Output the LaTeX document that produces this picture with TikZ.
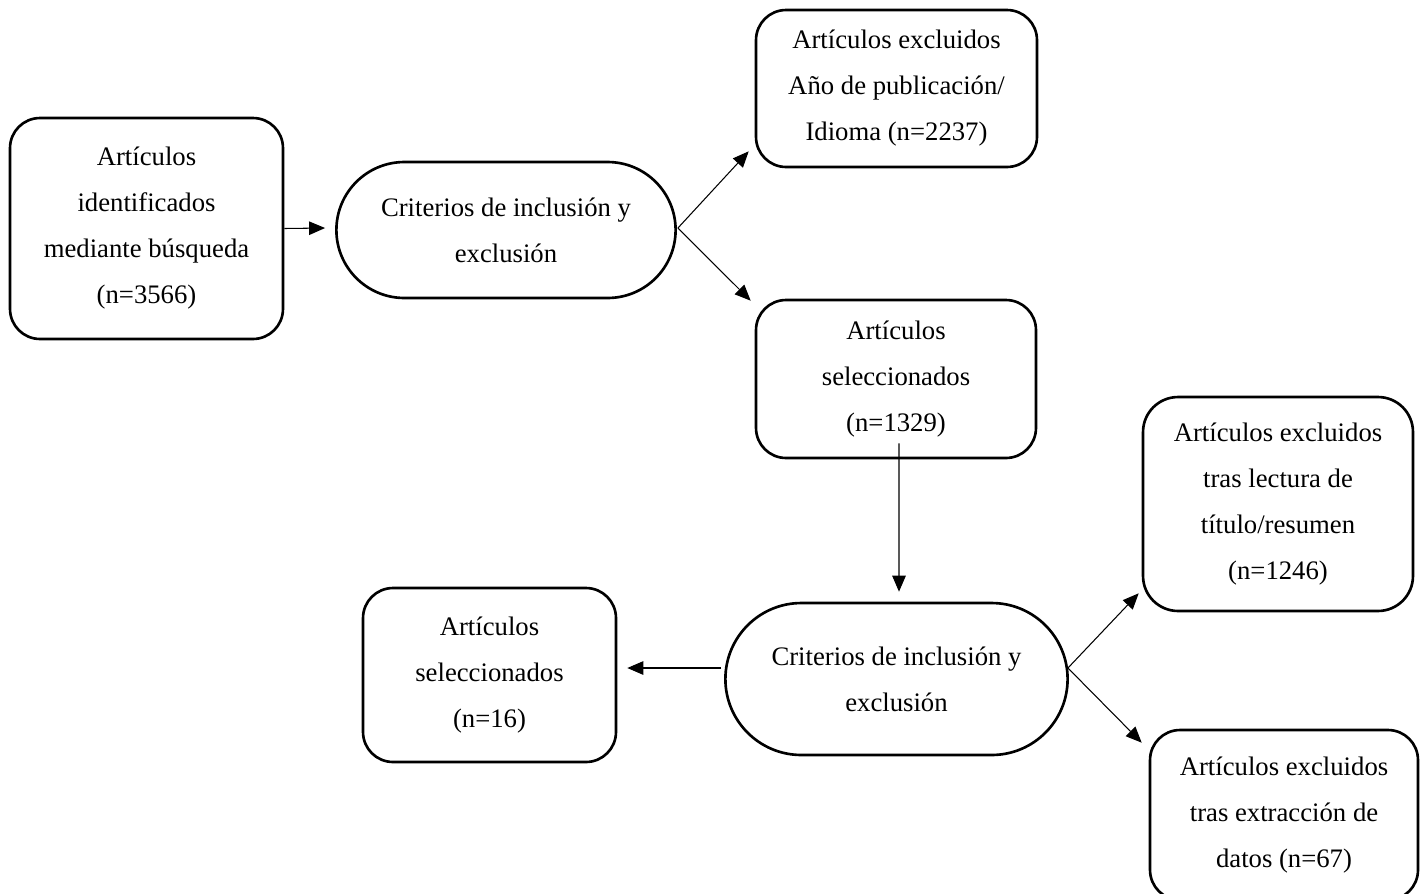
\documentclass[tikz,border=0pt]{standalone}
\usepackage{fontspec}
\setmainfont{Liberation Serif}
\usepackage{tikz}
\usetikzlibrary{calc}
\usetikzlibrary{arrows.meta}
\usetikzlibrary{positioning,shapes.misc}

\begin{document}
\begin{tikzpicture}[x=0.02cm,y=-0.02cm,>={Triangle[length=0.32cm,width=0.27cm]},
caja/.style={rectangle,draw,line width=1.5pt,rounded corners=0.6cm,align=center,
font=\fontsize{15.2pt}{26.2pt}\selectfont},
criterio/.style={rounded rectangle,draw,line width=1.5pt,align=center,
font=\fontsize{15.2pt}{26.2pt}\selectfont},
flecha/.style={->,line width=0.6pt}]
\useasboundingbox (0,0) rectangle (1426,893);

\node (Identificados) [caja,minimum width=5.46cm,minimum height=4.42cm] at (146.5,228.5)
{Artículos\\identificados\\mediante búsqueda\\(n=3566)};
\node (Criterio1) [criterio,minimum width=7.02cm,minimum height=2.72cm] at (506,230)
{Criterios de inclusión y\\exclusión};
\node (Excluidos1) [caja,minimum width=5.62cm,minimum height=3.14cm] at (896.5,88.5)
{Artículos excluidos\\Año de publicación/\\Idioma (n=2237)};
\node (Seleccionados1) [caja,minimum width=5.6cm,minimum height=3.16cm] at (896,379)
{Artículos\\seleccionados\\(n=1329)};
\node (Excluidos2) [caja,minimum width=5.4cm,minimum height=4.28cm,rounded corners=0.7cm] at (1278,504)
{Artículos excluidos\\tras lectura de\\título/resumen\\(n=1246)};
\node (Criterio2) [criterio,minimum width=7.08cm,minimum height=3.04cm] at (896.5,679)
{Criterios de inclusión y\\exclusión};
\node (Seleccionados2) [caja,minimum width=5.06cm,minimum height=3.48cm] at (489.5,675)
{Artículos\\seleccionados\\(n=16)};
\node (Excluidos3) [caja,minimum width=5.36cm,minimum height=3.4cm] at (1284,815)
{Artículos excluidos\\tras extracción de\\datos (n=67)};

\draw[flecha] (Identificados.east) -- ($(Criterio1.west)+(-10,-2)$);
\draw[flecha] ($(Criterio1.east)+(1,-2)$) -- ($(Excluidos1.south west)+(-6,-17)$);
\draw[flecha] ($(Criterio1.east)+(1,-2)$) -- ($(Seleccionados1.north west)+(-4,2)$);
\draw[flecha] ($(Seleccionados1.south)+(3,-16)$) -- ($(Criterio2.north)+(2.5,-10)$);
\draw[flecha] ($(Criterio2.west)+(-3,-11)$) -- ($(Seleccionados2.east)+(10,-7)$);
\draw[flecha] ($(Criterio2.east)+(-1,-11)$) -- ($(Excluidos2.south west)+(-3,-19)$);
\draw[flecha] ($(Criterio2.east)+(-1,-11)$) -- ($(Excluidos3.north west)+(-7,14)$);
\end{tikzpicture}
\end{document}
